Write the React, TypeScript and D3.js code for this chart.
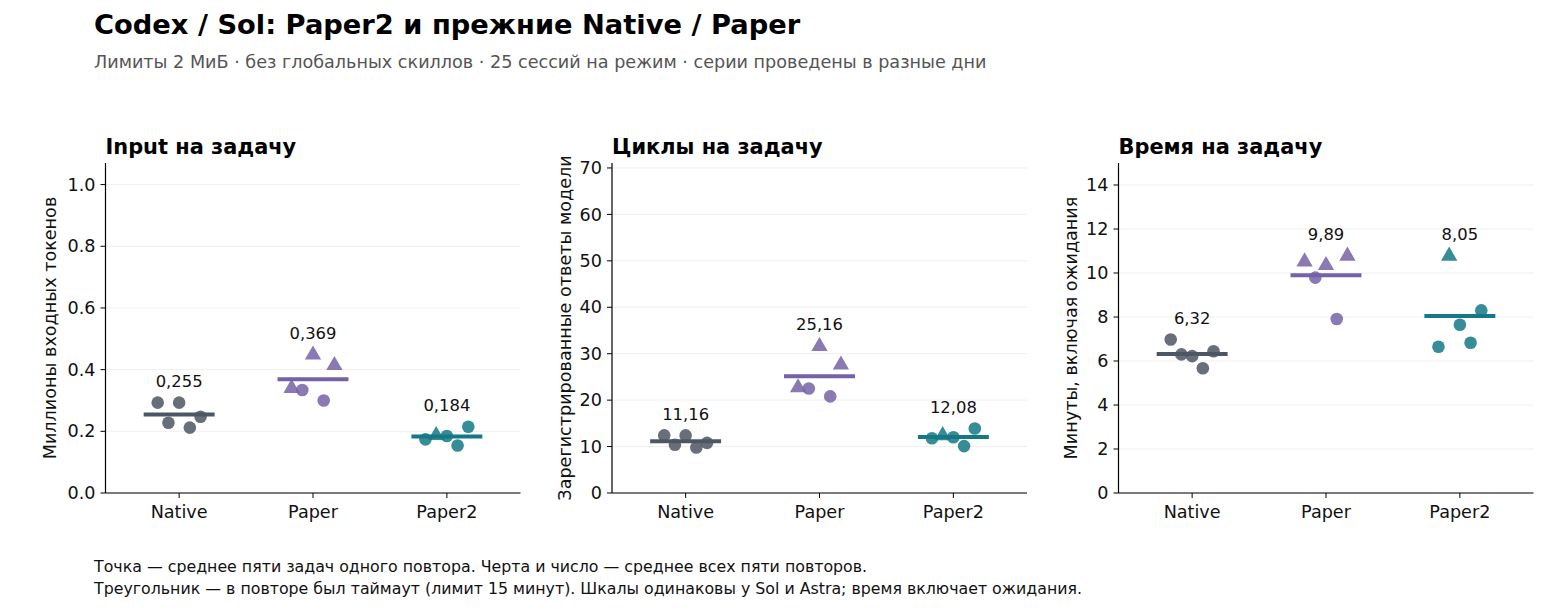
import React from 'react';
import * as d3 from 'd3';

// categories and repeats
const categories = ['Native', 'Paper', 'Paper2'];
const repOffsets = [-0.16, -0.08, 0, 0.08, 0.16];

// timeout flags per repeat (triangle markers)
const timeoutNative = [false, false, false, false, false];
const timeoutPaper = [true, false, true, false, true];
const timeoutPaper2 = [false, true, false, false, false];

// Input, millions of tokens per task
const inputNative = [0.293, 0.228, 0.293, 0.212, 0.247];
const inputPaper = [0.343, 0.334, 0.451, 0.3, 0.417];
const inputPaper2 = [0.174, 0.19, 0.185, 0.154, 0.215];

// cycles per task
const cyclesNative = [12.4, 10.4, 12.4, 9.8, 10.8];
const cyclesPaper = [22.9, 22.5, 31.8, 20.8, 27.8];
const cyclesPaper2 = [11.8, 12.6, 12.0, 10.1, 13.9];

// minutes per task
const timeNative = [6.98, 6.3, 6.22, 5.67, 6.44];
const timePaper = [10.56, 9.79, 10.39, 7.91, 10.82];
const timePaper2 = [6.65, 10.82, 7.65, 6.83, 8.3];

const colors = ['#4d5663', '#7561a5', '#147985'];
const FONT = '"DejaVu Sans", sans-serif';

const W = 1560;
const H = 614;
const TOP = 163;
const BOTTOM = 493;
const PANEL_W = 415;

interface PanelProps {
  left: number;
  title: string;
  ylabel: string;
  ylabelOffset: number;
  yMax: number;
  ticks: number[];
  tickFmt: (v: number) => string;
  series: number[][];
  decimals: number;
}

function Panel({ left, title, ylabel, ylabelOffset, yMax, ticks, tickFmt, series, decimals }: PanelProps) {
  const x = d3.scaleLinear().domain([-0.55, 2.55]).range([left, left + PANEL_W]);
  const y = d3.scaleLinear().domain([0, yMax]).range([BOTTOM, TOP]);
  const timeouts = [timeoutNative, timeoutPaper, timeoutPaper2];
  const tri = d3.symbol().type(d3.symbolTriangle).size(115)();

  return (
    <g>
      {ticks.map((t) => (
        <line key={'g' + t} x1={left} x2={left + PANEL_W} y1={y(t)} y2={y(t)} stroke="#ebebeb" strokeWidth={0.8} />
      ))}
      {series.map((vals, ci) => {
        const mean = d3.mean(vals) as number;
        const maxV = d3.max(vals) as number;
        return (
          <g key={ci}>
            {vals.map((v, ri) => {
              const cx = x(ci + repOffsets[ri]);
              const cy = y(v);
              return timeouts[ci][ri] ? (
                <path key={ri} d={tri} transform={`translate(${cx},${cy + 1})`} fill={colors[ci]} fillOpacity={0.85} />
              ) : (
                <circle key={ri} cx={cx} cy={cy} r={6.3} fill={colors[ci]} fillOpacity={0.85} />
              );
            })}
            <line x1={x(ci - 0.265)} x2={x(ci + 0.265)} y1={y(mean)} y2={y(mean)} stroke={colors[ci]} strokeWidth={4} />
            <text x={x(ci)} y={y(maxV) - 21} dy="0.35em" textAnchor="middle" fontSize={16.4} fontFamily={FONT} fill="#111">
              {mean.toFixed(decimals).replace('.', ',')}
            </text>
          </g>
        );
      })}
      {/* spines */}
      <line x1={left} x2={left} y1={TOP} y2={BOTTOM} stroke="#000" strokeWidth={1.2} />
      <line x1={left} x2={left + PANEL_W} y1={BOTTOM} y2={BOTTOM} stroke="#000" strokeWidth={1.2} />
      {ticks.map((t) => (
        <g key={'t' + t}>
          <line x1={left - 5} x2={left} y1={y(t)} y2={y(t)} stroke="#000" strokeWidth={1} />
          <text x={left - 10} y={y(t)} dy="0.35em" textAnchor="end" fontSize={17.6} fontFamily={FONT} fill="#111">
            {tickFmt(t)}
          </text>
        </g>
      ))}
      {categories.map((c, i) => (
        <g key={c}>
          <line x1={x(i)} x2={x(i)} y1={BOTTOM} y2={BOTTOM + 5} stroke="#000" strokeWidth={1} />
          <text x={x(i)} y={BOTTOM + 25} textAnchor="middle" fontSize={17.6} fontFamily={FONT} fill="#111">
            {c}
          </text>
        </g>
      ))}
      <text x={left} y={154} fontSize={20.9} fontWeight="bold" fontFamily={FONT} fill="#000">
        {title}
      </text>
      <text
        transform={`translate(${left - ylabelOffset},${(TOP + BOTTOM) / 2}) rotate(-90)`}
        textAnchor="middle"
        fontSize={17.6}
        fontFamily={FONT}
        fill="#111"
      >
        {ylabel}
      </text>
    </g>
  );
}

export default function App() {
  return (
    <div style={{ position: 'absolute', left: 0, top: 0 }}>
      <svg width={W} height={H} style={{ display: 'block', background: '#fff' }}>
        <text x={94} y={34} fontSize={27.3} fontWeight="bold" fontFamily={FONT} fill="#000">
          Codex / Sol: Paper2 и прежние Native / Paper
        </text>
        <text x={94} y={68} fontSize={17.6} fontFamily={FONT} fill="#555">
          Лимиты 2 МиБ · без глобальных скиллов · 25 сессий на режим · серии проведены в разные дни
        </text>
        <Panel
          left={105.5}
          title="Input на задачу"
          ylabel="Миллионы входных токенов"
          ylabelOffset={49.5}
          yMax={1.07}
          ticks={[0, 0.2, 0.4, 0.6, 0.8, 1.0]}
          tickFmt={(v) => v.toFixed(1)}
          series={[inputNative, inputPaper, inputPaper2]}
          decimals={3}
        />
        <Panel
          left={612}
          title="Циклы на задачу"
          ylabel="Зарегистрированные ответы модели"
          ylabelOffset={41}
          yMax={71.07}
          ticks={[0, 10, 20, 30, 40, 50, 60, 70]}
          tickFmt={(v) => String(v)}
          series={[cyclesNative, cyclesPaper, cyclesPaper2]}
          decimals={2}
        />
        <Panel
          left={1118.5}
          title="Время на задачу"
          ylabel="Минуты, включая ожидания"
          ylabelOffset={42}
          yMax={15}
          ticks={[0, 2, 4, 6, 8, 10, 12, 14]}
          tickFmt={(v) => String(v)}
          series={[timeNative, timePaper, timePaper2]}
          decimals={2}
        />
        <text x={94} y={572} fontSize={15.8} fontFamily={FONT} fill="#111">
          Точка — среднее пяти задач одного повтора. Черта и число — среднее всех пяти повторов.
        </text>
        <text x={94} y={594} fontSize={15.8} fontFamily={FONT} fill="#111">
          Треугольник — в повторе был таймаут (лимит 15 минут). Шкалы одинаковы у Sol и Astra; время включает ожидания.
        </text>
      </svg>
    </div>
  );
}
